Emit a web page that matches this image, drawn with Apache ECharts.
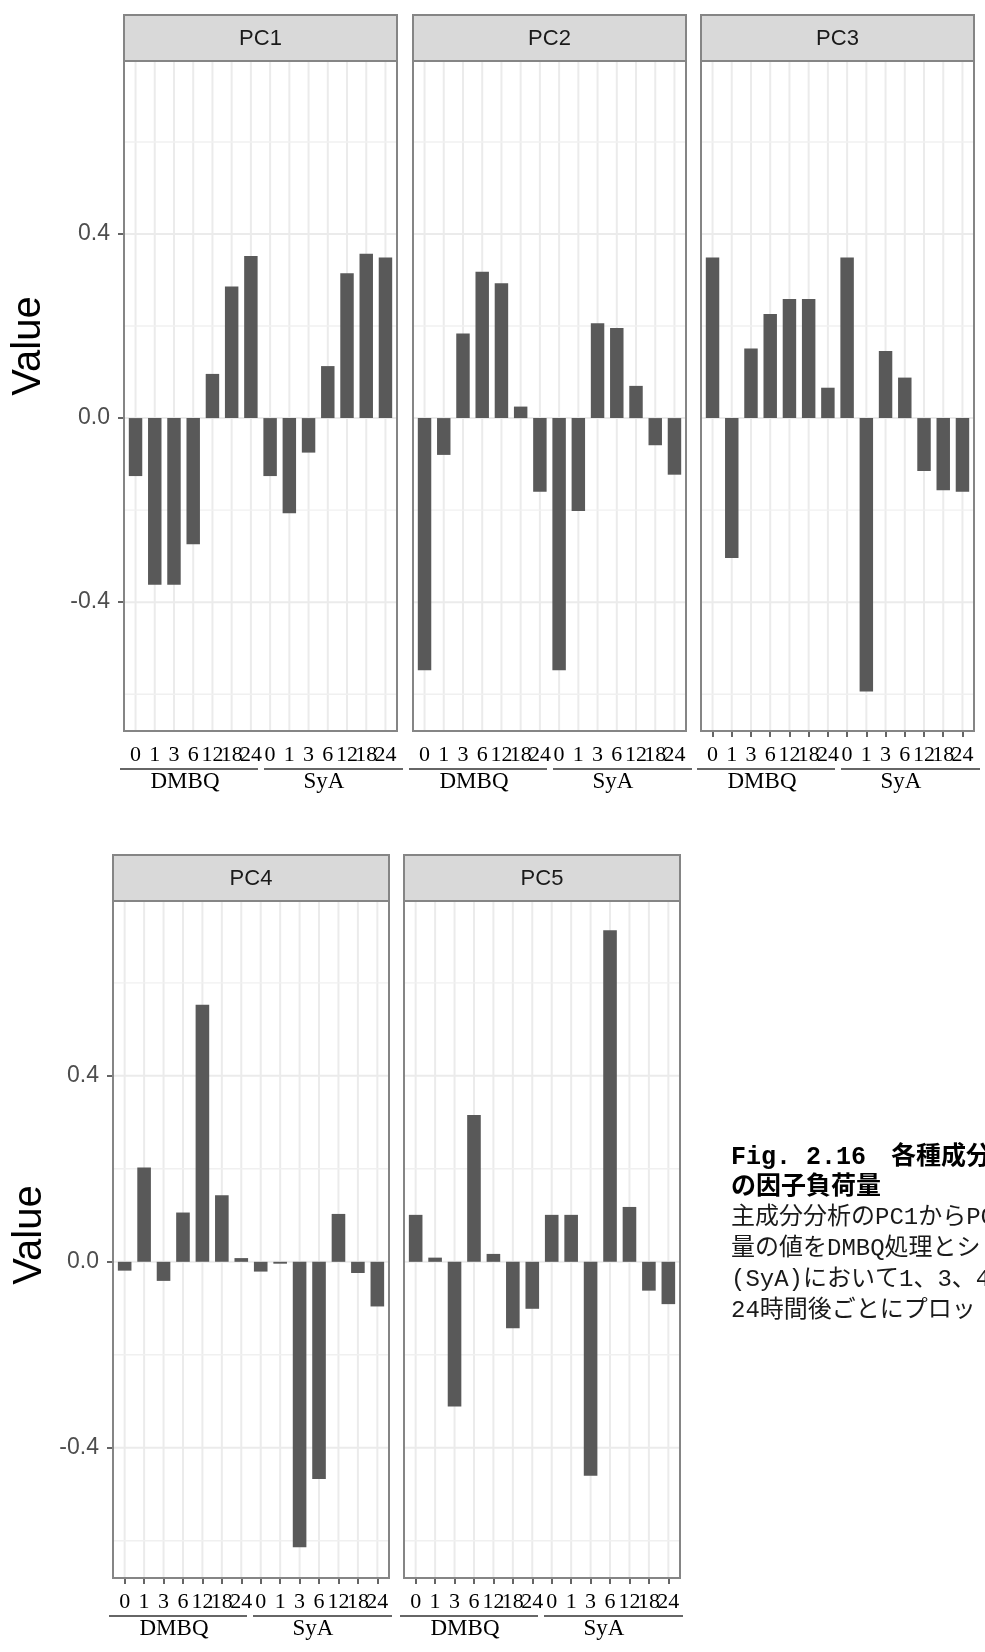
<!DOCTYPE html>
<html>
<head>
<meta charset="utf-8">
<script src="https://cdn.jsdelivr.net/npm/echarts@6/dist/echarts.min.js"></script>
<style>
  html, body { margin: 0; padding: 0; background: #ffffff; }
  #chart { width: 985px; height: 1652px; }
</style>
</head>
<body>
<div id="chart"></div>
<script>
// Sampling times (h) within each treatment, and the two treatments
const timeLabels = ['0', '1', '3', '6', '12', '18', '24'];
const groupNames = ['DMBQ', 'SyA'];
const panelNames = ['PC1', 'PC2', 'PC3', 'PC4', 'PC5'];

// Factor loadings: DMBQ 0..24 h followed by SyA 0..24 h
const pc1 = [-0.126, -0.362, -0.362, -0.274, 0.096, 0.286, 0.352, -0.126, -0.207, -0.075, 0.113, 0.315, 0.357, 0.349];
const pc2 = [-0.548, -0.080, 0.184, 0.318, 0.293, 0.025, -0.160, -0.548, -0.202, 0.206, 0.196, 0.070, -0.059, -0.123];
const pc3 = [0.349, -0.304, 0.151, 0.226, 0.259, 0.259, 0.066, 0.349, -0.594, 0.146, 0.088, -0.115, -0.157, -0.160];
const pc4 = [-0.019, 0.203, -0.041, 0.106, 0.553, 0.143, 0.008, -0.021, -0.004, -0.614, -0.467, 0.103, -0.024, -0.096];
const pc5 = [0.101, 0.009, -0.311, 0.316, 0.017, -0.143, -0.101, 0.101, 0.101, -0.460, 0.713, 0.118, -0.062, -0.091];
const loadings = [pc1, pc2, pc3, pc4, pc5];

// Value axis breaks and limits
const yMajorTicks = [-0.4, 0, 0.4];
const yMinorTicks = [-0.6, -0.2, 0.2, 0.6];
const yLimits = [-0.68, 0.776];

// Caption beside the lower row
const captionBold = ['Fig. 2.16\u3000各種成分', 'の因子負荷量'];
const captionBody = ['主成分分析のPC1からPC', '量の値をDMBQ処理とシ', '(SyA)において1、3、4、', '24時間後ごとにプロッ'];

// ---- derived category list ----
const categories = [];
groupNames.forEach(g => timeLabels.forEach(t => categories.push({ group: g, time: t })));
const catIndex = categories.map((c, i) => i);
const xLimits = [-0.6, categories.length - 1 + 0.6];
// the axis ends carry empty labels so the crowded end labels are never dropped
const xLabelValues = [xLimits[0]].concat(catIndex, [xLimits[1]]);

// ---- facet layout ----
const STRIP_H = 46;
const panels = [
  { left: 124, top: 61,  width: 273, height: 670, yLabels: true,  xTicks: false },
  { left: 413, top: 61,  width: 273, height: 670, yLabels: false, xTicks: false },
  { left: 701, top: 61,  width: 273, height: 670, yLabels: false, xTicks: true },
  { left: 113, top: 901, width: 276, height: 677, yLabels: true,  xTicks: true },
  { left: 404, top: 901, width: 276, height: 677, yLabels: false, xTicks: true }
];

const BAR_COLOR = '#595959';
const GRID_COLOR = '#ebebeb';
const BORDER_COLOR = '#858585';

const grids = [], xAxes = [], yAxes = [], series = [], graphics = [];

panels.forEach((p, k) => {
  grids.push({ left: p.left, top: p.top, width: p.width, height: p.height, outerBoundsMode: 'none', containLabel: false });

  xAxes.push({
    type: 'value', gridIndex: k, min: xLimits[0], max: xLimits[1], position: 'bottom',
    axisLine: { show: false, onZero: false },
    splitLine: { show: false },
    axisTick: { show: p.xTicks, customValues: catIndex, length: 6, lineStyle: { color: '#333333', width: 1.5 } },
    axisLabel: {
      show: true, customValues: xLabelValues, margin: 13,
      showMinLabel: false, showMaxLabel: false, hideOverlap: false,
      formatter: v => {
        const i = Math.round(v);
        return Math.abs(v - i) < 1e-6 && categories[i] ? categories[i].time : '';
      },
      fontFamily: 'Liberation Serif', fontSize: 22, color: '#000000'
    }
  });

  yAxes.push({
    type: 'value', gridIndex: k, min: yLimits[0], max: yLimits[1], position: 'left',
    axisLine: { show: false, onZero: false },
    splitLine: { show: false },
    axisTick: { show: p.yLabels, customValues: yMajorTicks, length: 6, lineStyle: { color: '#333333', width: 1.5 } },
    axisLabel: {
      show: p.yLabels, customValues: yMajorTicks, margin: 14,
      showMinLabel: true, showMaxLabel: true,
      formatter: v => v.toFixed(1),
      fontFamily: 'Liberation Sans', fontSize: 23, color: '#4d4d4d'
    }
  });

  // vertical grid lines at each category
  series.push({
    type: 'custom', xAxisIndex: k, yAxisIndex: k, z: 1, silent: true,
    data: catIndex.map(i => [i, 0]),
    renderItem: (params, api) => {
      const a = api.coord([api.value(0), yLimits[0]]);
      const b = api.coord([api.value(0), yLimits[1]]);
      return { type: 'line', shape: { x1: a[0], y1: a[1], x2: b[0], y2: b[1] }, style: { stroke: GRID_COLOR, lineWidth: 2 } };
    }
  });

  // horizontal grid lines (major and minor breaks)
  series.push({
    type: 'custom', xAxisIndex: k, yAxisIndex: k, z: 1, silent: true,
    data: yMajorTicks.map(v => [0, v, 1]).concat(yMinorTicks.map(v => [0, v, 0])),
    renderItem: (params, api) => {
      const a = api.coord([xLimits[0], api.value(1)]);
      const b = api.coord([xLimits[1], api.value(1)]);
      const major = api.value(2) === 1;
      return { type: 'line', shape: { x1: a[0], y1: a[1], x2: b[0], y2: b[1] }, style: { stroke: major ? GRID_COLOR : '#f0f0f0', lineWidth: major ? 2 : 1.4 } };
    }
  });

  const unit = p.width / (xLimits[1] - xLimits[0]);
  series.push({
    type: 'bar', xAxisIndex: k, yAxisIndex: k, z: 2, silent: true,
    barWidth: unit * 0.7,
    itemStyle: { color: BAR_COLOR },
    data: loadings[k].map((v, i) => [i, v])
  });

  // facet strip
  graphics.push({
    type: 'rect', z: 100, silent: true,
    shape: { x: p.left, y: p.top - STRIP_H, width: p.width, height: STRIP_H },
    style: { fill: '#d9d9d9', stroke: BORDER_COLOR, lineWidth: 2 }
  });
  graphics.push({
    type: 'text', z: 101, silent: true, x: p.left + p.width / 2, y: p.top - STRIP_H / 2 + 1,
    style: { text: panelNames[k], fontFamily: 'Liberation Sans', fontSize: 22, fill: '#1a1a1a', align: 'center', verticalAlign: 'middle' }
  });
  // panel border
  graphics.push({
    type: 'rect', z: 100, silent: true,
    shape: { x: p.left, y: p.top, width: p.width, height: p.height },
    style: { fill: null, stroke: BORDER_COLOR, lineWidth: 2 }
  });

  // treatment labels with their rules
  const ruleY = p.top + p.height + 38;
  const spans = [[-4, 134], [140, 279]];
  const labelOffsets = [61, 200];
  groupNames.forEach((g, gi) => {
    graphics.push({
      type: 'line', z: 100, silent: true,
      shape: { x1: p.left + spans[gi][0], y1: ruleY, x2: p.left + spans[gi][1], y2: ruleY },
      style: { stroke: '#333333', lineWidth: 1.5 }
    });
    graphics.push({
      type: 'text', z: 101, silent: true, x: p.left + labelOffsets[gi], y: ruleY + 13,
      style: { text: g, fontFamily: 'Liberation Serif', fontSize: 23, fill: '#000000', align: 'center', verticalAlign: 'middle' }
    });
  });
});

// y axis titles, one per row
[{ x: 29, y: 346 }, { x: 30, y: 1235 }].forEach(pos => {
  graphics.push({
    type: 'text', z: 101, silent: true, x: pos.x, y: pos.y, rotation: Math.PI / 2,
    style: { text: 'Value', fontFamily: 'Liberation Sans', fontSize: 40, fill: '#000000', align: 'center', verticalAlign: 'middle' }
  });
});

// figure caption
const CAP_FONT = "'Liberation Mono', 'Noto Sans CJK JP'";
captionBold.forEach((t, i) => {
  graphics.push({
    type: 'text', z: 101, silent: true, x: 731, y: 1158 + i * 30,
    style: { text: t, fontFamily: CAP_FONT, fontWeight: 'bold', fontSize: 25, fill: '#000000', align: 'left', verticalAlign: 'middle' }
  });
});
captionBody.forEach((t, i) => {
  graphics.push({
    type: 'text', z: 101, silent: true, x: 731, y: 1218 + i * 31,
    style: { text: t, fontFamily: CAP_FONT, fontSize: 24, fill: '#1a1a1a', align: 'left', verticalAlign: 'middle' }
  });
});

const chart = echarts.init(document.getElementById('chart'), null, { renderer: 'canvas' });
chart.setOption({
  animation: false,
  backgroundColor: '#ffffff',
  grid: grids,
  xAxis: xAxes,
  yAxis: yAxes,
  series: series,
  graphic: { elements: graphics }
});
</script>
</body>
</html>
